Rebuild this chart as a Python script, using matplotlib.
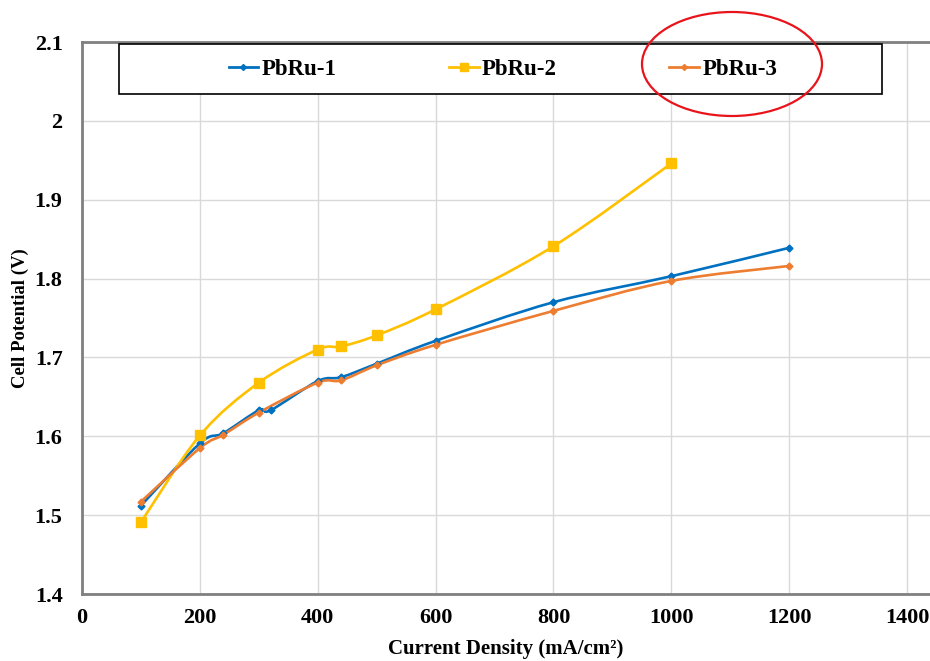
import numpy as np
import matplotlib
matplotlib.use('Agg')
import matplotlib.pyplot as plt
from matplotlib.path import Path
from matplotlib.patches import PathPatch, Rectangle, Ellipse
from matplotlib.lines import Line2D

current = [100, 200, 240, 300, 320, 400, 440, 500, 600, 800, 1000, 1200]
pbru1 = [1.512, 1.591, 1.604, 1.633, 1.633, 1.670, 1.675, 1.692, 1.721, 1.770, 1.803, 1.839]

current3 = [100, 200, 240, 300, 400, 440, 500, 600, 800, 1000, 1200]
pbru3 = [1.517, 1.585, 1.602, 1.630, 1.668, 1.671, 1.690, 1.716, 1.759, 1.797, 1.816]

current2 = [100, 200, 300, 400, 440, 500, 600, 800, 1000]
pbru2 = [1.491, 1.601, 1.668, 1.710, 1.714, 1.728, 1.761, 1.841, 1.946]

xticks = [0, 200, 400, 600, 800, 1000, 1200, 1400]
yticks = [1.4, 1.5, 1.6, 1.7, 1.8, 1.9, 2.0, 2.1]
ytick_labels = ["1.4", "1.5", "1.6", "1.7", "1.8", "1.9", "2", "2.1"]

BLUE = "#0070C0"
YELLOW = "#FFC000"
ORANGE = "#ED7D31"

plt.rcParams['font.family'] = ['Liberation Serif', 'DejaVu Serif']
plt.rcParams['font.weight'] = 'bold'


def smooth(ax, x, y, color):
	# excel-like smoothed line: catmull-rom as cubic beziers
	pts = np.column_stack([x, y]).astype(float)
	n = len(pts)
	verts = [pts[0]]
	codes = [Path.MOVETO]
	for i in range(n - 1):
		p0 = pts[max(i - 1, 0)]
		p1 = pts[i]
		p2 = pts[i + 1]
		p3 = pts[min(i + 2, n - 1)]
		verts += [p1 + (p2 - p0) / 6., p2 - (p3 - p1) / 6., p2]
		codes += [Path.CURVE4] * 3
	ax.add_patch(PathPatch(Path(verts, codes), facecolor="none",
		edgecolor=color, lw=1.9, zorder=2, capstyle="round"))


fig = plt.figure(figsize=(9.3, 6.61), dpi=100)
ax = fig.add_axes([82/930, 67/661, 848/930, 552/661])

smooth(ax, current, pbru1, BLUE)
smooth(ax, current2, pbru2, YELLOW)
smooth(ax, current3, pbru3, ORANGE)
ax.plot(current, pbru1, ls="none", marker="D", ms=3.5, color=BLUE, zorder=3)
ax.plot(current2, pbru2, ls="none", marker="s", ms=7.5, color=YELLOW, zorder=3)
ax.plot(current3, pbru3, ls="none", marker="D", ms=3.5, color=ORANGE, zorder=3)

ax.set_xlim(0, 1439)
ax.set_ylim(1.4, 2.1)
ax.set_xticks(xticks)
ax.set_yticks(yticks)
ax.set_yticklabels(ytick_labels)
ax.tick_params(length=0, labelsize=16)
ax.tick_params(axis="y", pad=14)
ax.tick_params(axis="x", pad=10)
ax.grid(True, color="#D9D9D9", lw=1)
ax.set_axisbelow(True)
for s in ["left", "bottom", "top"]:
	ax.spines[s].set_color("#808080")
	ax.spines[s].set_linewidth(2)
ax.spines["right"].set_visible(False)

ax.set_xlabel("Current Density (mA/cm²)", fontsize=15, fontweight="bold", labelpad=8)
ax.set_ylabel("Cell Potential (V)", fontsize=13.5, fontweight="bold", labelpad=4)

# legend box
ax.add_patch(Rectangle((37/848, 500/552), 763/848, 50/552, transform=ax.transAxes,
	facecolor="white", edgecolor="black", lw=1.2, zorder=4, clip_on=False))
handles = [
	Line2D([], [], color=BLUE, lw=2, marker="D", ms=3),
	Line2D([], [], color=YELLOW, lw=2, marker="s", ms=6),
	Line2D([], [], color=ORANGE, lw=2, marker="D", ms=3),
]
leg = ax.legend(handles, ["PbRu-1", "PbRu-2", "PbRu-3"], loc="center",
	bbox_to_anchor=(0.4965, 0.951), ncol=3, frameon=False, fontsize=16.5,
	handlelength=1.3, handletextpad=0.15, columnspacing=4.9)
leg.set_zorder(5)

# red circle highlight
fig.add_artist(Ellipse((732/930, 597/661), 180/930, 104/661, transform=fig.transFigure,
	facecolor="none", edgecolor="#E8141B", lw=1.6, zorder=10))

fig.savefig("out.png", dpi=100)
